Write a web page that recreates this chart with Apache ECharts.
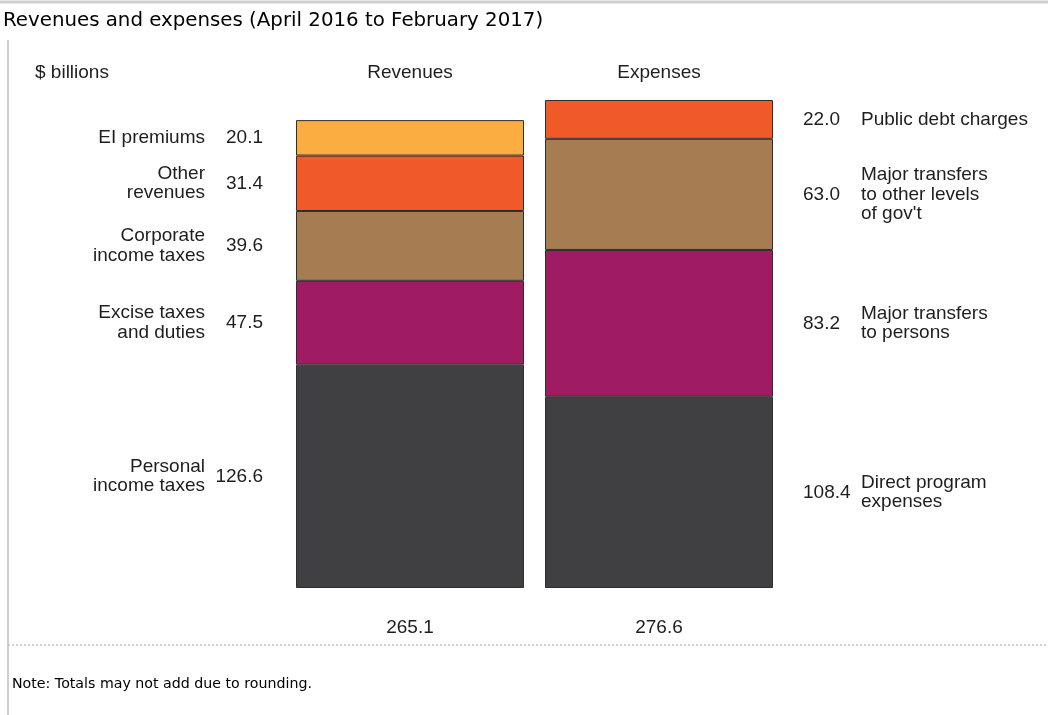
<!DOCTYPE html>
<html>
<head>
<meta charset="utf-8">
<script src="https://cdn.jsdelivr.net/npm/echarts@6/dist/echarts.min.js"></script>
<style>
html,body{margin:0;padding:0;background:#fff;}
#chart{width:1048px;height:715px;}
</style>
</head>
<body>
<div id="chart"></div>
<script>
// ---- data ----
const categories = ['Revenues', 'Expenses'];
const totals = [265.1, 276.6];
const revenueNames = ['Personal\nincome taxes', 'Excise taxes\nand duties', 'Corporate\nincome taxes', 'Other\nrevenues', 'EI premiums'];
const revenueValues = [126.6, 47.5, 39.6, 31.4, 20.1];
const expenseNames = ['Direct program\nexpenses', 'Major transfers\nto persons', "Major transfers\nto other levels\nof gov't", 'Public debt charges'];
const expenseValues = [108.4, 83.2, 63.0, 22.0];
const titleText = 'Revenues and expenses (April 2016 to February 2017)';
const unitText = '$ billions';
const noteText = 'Note: Totals may not add due to rounding.';

// ---- styles ----
const revenueColors = ['#404042', '#a01c62', '#a67c52', '#f05a28', '#fbad42'];
const expenseColors = ['#404042', '#a01c62', '#a67c52', '#f05a28'];
const FONT = '"Liberation Sans", Arial, Helvetica, sans-serif';
const TXT = '#1e1e1e';
const FS = 19;

const chart = echarts.init(document.getElementById('chart'));
const series = [];

function addGroup(values, names, colors, catIndex, side) {
  values.forEach((v, i) => {
    const data = categories.map((c, k) => k === catIndex ? v : '-');
    series.push({
      type: 'bar', stack: 'main', xAxisIndex: 0, yAxisIndex: 0,
      barWidth: 228, silent: true,
      data: data,
      itemStyle: { color: colors[i], borderColor: '#2e2e2e', borderWidth: 1 },
      label: {
        show: true, position: side, distance: side === 'left' ? 33 : 30,
        fontFamily: FONT, fontSize: FS, color: TXT,
        formatter: p => (typeof p.value === 'number') ? p.value.toFixed(1) : ''
      },
      emphasis: { disabled: true }
    });
    series.push({
      type: 'bar', stack: 'names', xAxisIndex: 1, yAxisIndex: 0,
      barWidth: 228, silent: true,
      data: data,
      itemStyle: { color: 'rgba(0,0,0,0)' },
      label: {
        show: true, position: side, distance: side === 'left' ? 91 : 88,
        fontFamily: FONT, fontSize: FS, lineHeight: 19.5, color: TXT,
        formatter: () => names[i]
      },
      emphasis: { disabled: true }
    });
  });
}
addGroup(revenueValues, revenueNames, revenueColors, 0, 'left');
addGroup(expenseValues, expenseNames, expenseColors, 1, 'right');

chart.setOption({
  animation: false,
  title: {
    text: titleText, left: 3, top: 11, padding: 0,
    textStyle: { fontFamily: '"DejaVu Sans", Verdana, sans-serif', fontSize: 19.8, fontWeight: 'normal', color: '#000' }
  },
  grid: { left: 285.5, right: 264.5, top: 100, bottom: 127 },
  xAxis: [
    {
      type: 'category', data: categories, position: 'top',
      axisLine: { show: false }, axisTick: { show: false },
      axisLabel: { fontFamily: FONT, fontSize: FS, color: TXT, margin: 18 }
    },
    {
      type: 'category', data: categories, position: 'bottom',
      axisLine: { show: false }, axisTick: { show: false },
      axisLabel: {
        fontFamily: FONT, fontSize: FS, color: TXT, margin: 30,
        formatter: (val, idx) => totals[idx].toFixed(1)
      }
    }
  ],
  yAxis: { type: 'value', min: 0, max: 276.6, show: false },
  graphic: [
    { type: 'line', shape: { x1: 0, y1: 2, x2: 1048, y2: 2 }, style: { stroke: '#cfcfcf', lineWidth: 3 } },
    { type: 'line', shape: { x1: 8, y1: 40, x2: 8, y2: 715 }, style: { stroke: '#cfcfcf', lineWidth: 2 } },
    { type: 'line', shape: { x1: 8, y1: 645, x2: 1048, y2: 645 }, style: { stroke: '#c4c4c4', lineWidth: 1.5, lineDash: [2, 2] } },
    { type: 'text', left: 35, top: 63, style: { text: unitText, font: FS + 'px ' + FONT, fill: TXT } },
    { type: 'text', left: 12, top: 677, style: { text: noteText, font: '14.2px "DejaVu Sans", Verdana, sans-serif', fill: '#000' } }
  ],
  series: series
});
</script>
</body>
</html>
